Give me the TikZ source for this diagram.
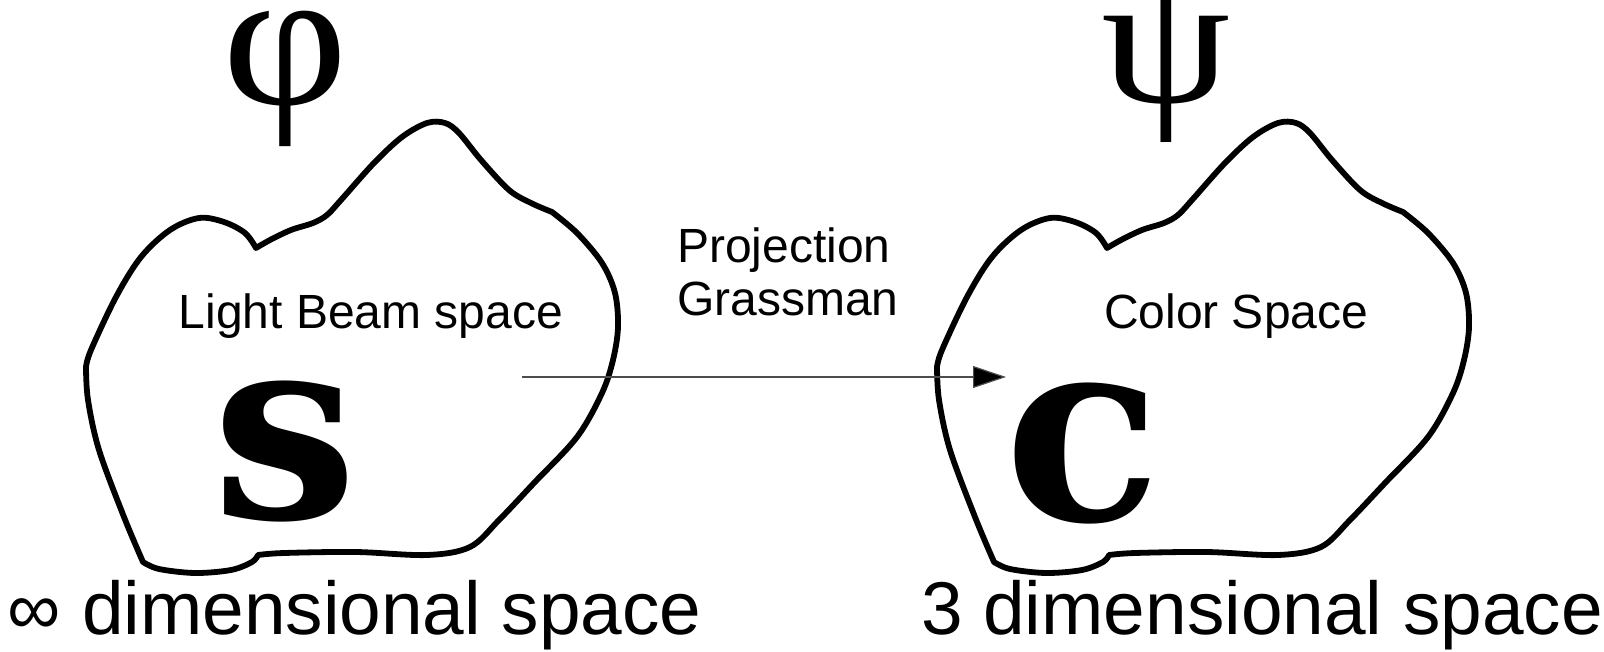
\documentclass[tikz,border=0pt]{standalone}
\usepackage{fontspec}
\setmainfont{Liberation Sans}
\newfontfamily\greekserif[FakeStretch=1.1]{Liberation Serif}
\newfontfamily\letterserif{DejaVu Serif}
\usetikzlibrary{arrows.meta}

\tikzset{
  outline/.style={line width=2.9pt, line join=round, line cap=round},
  smoothseg/.style={smooth, tension=0.55},
  spaceblob/.pic={
    \draw[outline]
      plot[smoothseg] coordinates {(256,248) (270,240) (291,230) (313,223) (327,215) (341,200)
        (374,163) (402,137) (427,123) (445,123) (459,133) (481,160) (509,190) (531,203) (552,212)}
      -- plot[smoothseg] coordinates {(552,212) (577,233) (602,263) (615,293) (618,327) (613,360)
        (602,393) (577,437) (534,483) (499,520) (470,547) (427,555) (356,552) (284,553) (258,555)}
      -- plot[smoothseg] coordinates {(258,555) (252,562) (231,570) (195,573) (159,569) (143,562)}
      -- plot[smoothseg] coordinates {(143,562) (124,517) (99,450) (88,400) (86,367)}
      -- plot[smoothseg] coordinates {(86,367) (91,350) (116,297) (141,257) (170,230) (199,218)
        (224,222) (245,233) (256,248)}
      -- cycle;
  },
  plain/.style={inner sep=0pt, outer sep=0pt},
  spacename/.style={plain, font=\fontsize{24pt}{26.5pt}\selectfont},
  dimtext/.style={plain, font=\fontsize{37.4pt}{40pt}\selectfont},
  bigletter/.style={plain, font=\fontsize{129pt}{130pt}\letterserif\bfseries},
  connector/.style={draw=black!70, line width=0.6pt,
    -{Triangle[length=16.5pt, width=11pt, fill=black]}},
}

\begin{document}
\begin{tikzpicture}[x=0.5pt, y=-0.5pt]
  \useasboundingbox (0,0) rectangle (1604,652);

  % the two spaces
  \pic at (0,0) {spaceblob};
  \pic at (851,0) {spaceblob};

  % names of the spaces
  \node[spacename, anchor=base] (lbs) at (371,328) {Light Beam space};
  \node[spacename, anchor=base west] (cs) at (1104,328) {Color Space};

  % set symbols
  \node[bigletter, anchor=base] (setS) at (285,518) {s};
  \node[bigletter, anchor=base] (setC) at (1083,520) {c};

  % greek labels above
  \node[plain, font=\fontsize{99pt}{100pt}\greekserif, anchor=base] (phi) at (285,105) {φ};
  \node[plain, font=\fontsize{94pt}{96pt}\greekserif, anchor=base] (psi) at (1166,103) {ψ};

  % projection between the spaces
  \coordinate (arrowstart) at (522,377);
  \coordinate (arrowend) at (1006,377);
  \draw[connector] (arrowstart) -- (arrowend);
  \node[spacename, anchor=base west] (proj) at (677,262) {Projection};
  \node[spacename, anchor=base west] (grass) at (677,315) {Grassman};

  % dimensions
  \node[dimtext, anchor=base west] (infdim) at (8,634) {∞ dimensional space};
  \node[dimtext, anchor=base west] (threedim) at (921,634) {3 dimensional space};
\end{tikzpicture}
\end{document}
